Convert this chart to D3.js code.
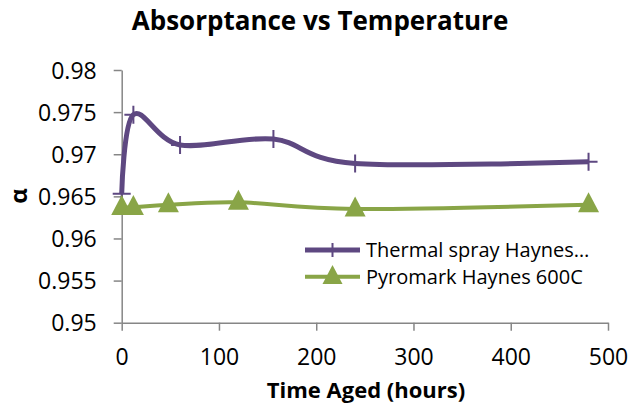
<!DOCTYPE html>
<html>
<head>
<meta charset="utf-8">
<script src="https://cdn.jsdelivr.net/npm/d3@7"></script>
<style>
  body { margin: 0; background: #fff; }
  text { font-family: "Open Sans", sans-serif; fill: #000; }
</style>
</head>
<body>
<div id="chart"></div>
<script>
// data
var hoursThermal = [0, 12, 60, 156, 240, 480];
var alphaThermal = [0.9653, 0.9747, 0.9711, 0.9718, 0.9689, 0.9691];
var hoursPyro = [0, 12, 48, 120, 240, 480];
var alphaPyro = [0.9637, 0.9637, 0.9640, 0.9643, 0.9635, 0.9640];
var seriesNames = ["Thermal spray Haynes\u2026", "Pyromark Haynes 600C"];
var xTicks = [0, 100, 200, 300, 400, 500];
var yTicks = [0.95, 0.955, 0.96, 0.965, 0.97, 0.975, 0.98];

var W = 642, H = 407;
var margin = {top: 70, right: 34, bottom: 84.3, left: 121.7};
var width = W - margin.left - margin.right;
var height = H - margin.top - margin.bottom;
var purple = "#5e4881", green = "#89a547", axisColor = "#868686";

var xScale = d3.scaleLinear().domain([0, 500]).range([0, width]);
var yScale = d3.scaleLinear().domain([0.95, 0.98]).range([height, 0]);

var svg = d3.select("#chart").append("svg")
  .attr("width", W)
  .attr("height", H);

svg.append("text")
  .attr("x", 320).attr("y", 30)
  .attr("text-anchor", "middle")
  .style("font-size", "26px").style("font-weight", "bold")
  .text("Absorptance vs Temperature");

var g = svg.append("g")
  .attr("transform", "translate(" + margin.left + "," + margin.top + ")");

// axes
var xAxis = d3.axisBottom(xScale).tickValues(xTicks).tickSize(8).tickSizeOuter(0);
var yAxis = d3.axisLeft(yScale).tickValues(yTicks).tickSize(8).tickSizeOuter(0)
  .tickFormat(function(d) { return +d.toFixed(3) + ""; });

var gY = g.append("g").call(yAxis);
var gX = g.append("g").attr("transform", "translate(0," + height + ")").call(xAxis);

[gX, gY].forEach(function(ax) {
  ax.select(".domain").attr("stroke", axisColor).attr("stroke-width", 1.5);
  ax.selectAll(".tick line").attr("stroke", axisColor).attr("stroke-width", 1.5);
  ax.selectAll(".tick text").style("font-size", "23px").style("font-family", "'Open Sans', sans-serif").attr("fill", "#000");
});
gY.selectAll(".tick text").attr("x", -25).attr("dy", "0.36em");
gX.selectAll(".tick text").attr("y", 26).attr("dy", "0.71em");

svg.append("text")
  .attr("x", 366).attr("y", 398)
  .attr("text-anchor", "middle")
  .style("font-size", "22px").style("font-weight", "bold")
  .text("Time Aged (hours)");

svg.append("text")
  .attr("transform", "translate(27,196) rotate(-90)")
  .attr("text-anchor", "middle")
  .style("font-size", "24px").style("font-weight", "bold")
  .text("\u03b1");

// lines
var line = d3.line()
  .x(function(d) { return xScale(d[0]); })
  .y(function(d) { return yScale(d[1]); })
  .curve(d3.curveCardinal.tension(0));

var thermal = d3.zip(hoursThermal, alphaThermal);
var pyro = d3.zip(hoursPyro, alphaPyro);

g.append("path").datum(pyro)
  .attr("d", line).attr("fill", "none")
  .attr("stroke", green).attr("stroke-width", 4);

g.append("path").datum(thermal)
  .attr("d", line).attr("fill", "none")
  .attr("stroke", purple).attr("stroke-width", 5);

function plusPath(s) {
  return "M" + (-s) + ",0H" + s + "M0," + (-s) + "V" + s;
}
function triPath(w, h) {
  return "M0," + (-h * 0.62) + "L" + (w / 2) + "," + (h * 0.38) + "L" + (-w / 2) + "," + (h * 0.38) + "Z";
}

g.selectAll(".plus").data(thermal).enter().append("path")
  .attr("class", "plus")
  .attr("transform", function(d) { return "translate(" + xScale(d[0]) + "," + yScale(d[1]) + ")"; })
  .attr("d", plusPath(9))
  .attr("stroke", purple).attr("stroke-width", 2).attr("fill", "none");

g.selectAll(".tri").data(pyro).enter().append("path")
  .attr("class", "tri")
  .attr("transform", function(d) { return "translate(" + xScale(d[0]) + "," + yScale(d[1]) + ")"; })
  .attr("d", triPath(21, 20))
  .attr("fill", green);

// legend
var legend = svg.append("g").attr("transform", "translate(305,250)");
var rows = legend.selectAll("g").data(seriesNames).enter().append("g")
  .attr("transform", function(d, i) { return "translate(0," + (i * 26.7) + ")"; });
rows.append("line")
  .attr("x1", 0).attr("x2", 55).attr("y1", 0).attr("y2", 0)
  .attr("stroke", function(d, i) { return i ? green : purple; })
  .attr("stroke-width", function(d, i) { return i ? 4 : 5; });
rows.filter(function(d, i) { return i === 0; }).append("path")
  .attr("transform", "translate(27.5,0)")
  .attr("d", plusPath(7)).attr("stroke", purple).attr("stroke-width", 2);
rows.filter(function(d, i) { return i === 1; }).append("path")
  .attr("transform", "translate(27.5,0)")
  .attr("d", triPath(20, 19)).attr("fill", green);
rows.append("text")
  .attr("x", 61).attr("y", 0).attr("dy", "0.35em")
  .style("font-size", "20px")
  .text(function(d) { return d; });
</script>
</body>
</html>
